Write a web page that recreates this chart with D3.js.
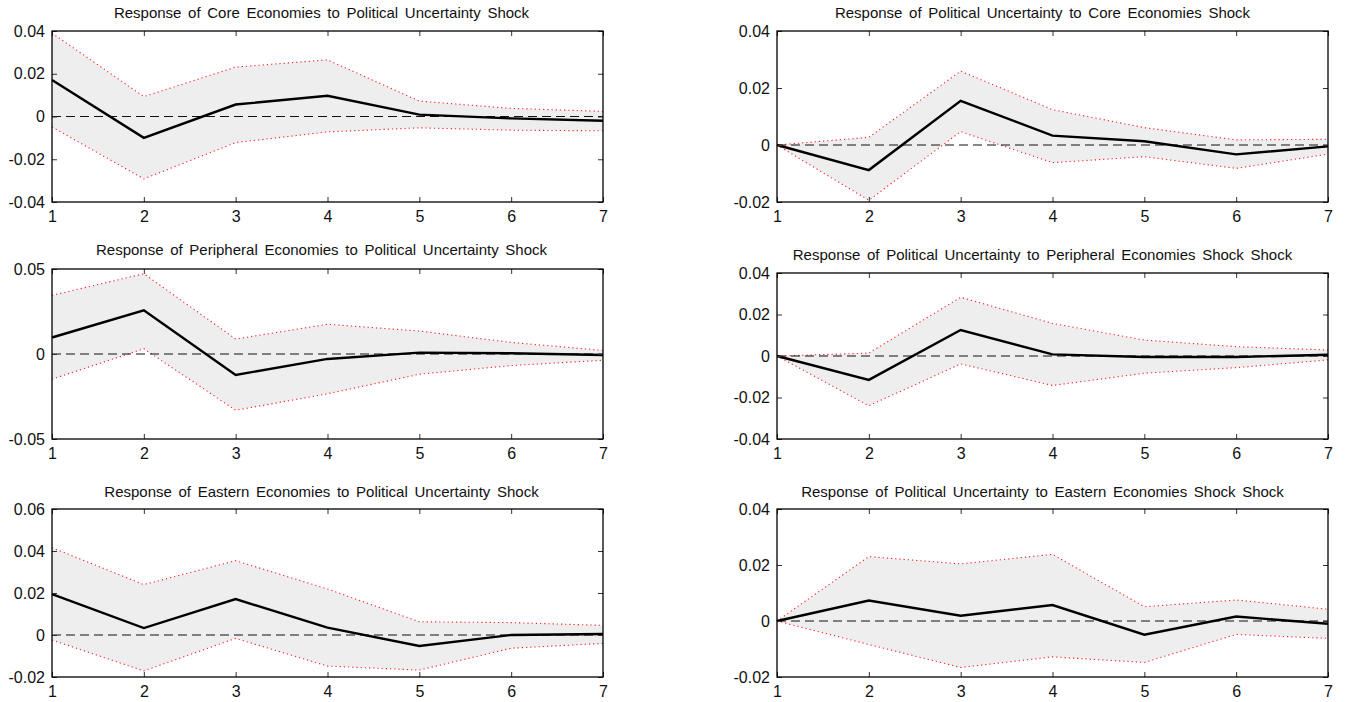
<!DOCTYPE html>
<html>
<head>
<meta charset="utf-8">
<script src="https://cdn.jsdelivr.net/npm/d3@7"></script>
<style>
  html, body { margin: 0; padding: 0; background: #ffffff; }
  svg { display: block; font-family: "Liberation Sans", Arial, sans-serif; }
</style>
</head>
<body>
<svg id="chart" width="1346" height="702"></svg>
<script>
// ---------------- data ----------------
const periods = [1, 2, 3, 4, 5, 6, 7];

const titles = [
  "Response of Core Economies to Political Uncertainty Shock",
  "Response of Political Uncertainty to Core Economies Shock",
  "Response of Peripheral Economies to Political Uncertainty Shock",
  "Response of Political Uncertainty to Peripheral Economies Shock Shock",
  "Response of Eastern Economies to Political Uncertainty Shock",
  "Response of Political Uncertainty to Eastern Economies Shock Shock"
];

const yTicksCore      = [-0.04, -0.02, 0, 0.02, 0.04];
const yTicksPUCore    = [-0.02, 0, 0.02, 0.04];
const yTicksPeriph    = [-0.05, 0, 0.05];
const yTicksPUPeriph  = [-0.04, -0.02, 0, 0.02, 0.04];
const yTicksEast      = [-0.02, 0, 0.02, 0.04, 0.06];
const yTicksPUEast    = [-0.02, 0, 0.02, 0.04];

const coreResp   = [0.0171, -0.0100, 0.0056, 0.0097, 0.0009, -0.0009, -0.0020];
const coreUpper  = [0.0390, 0.0093, 0.0231, 0.0265, 0.0072, 0.0038, 0.0024];
const coreLower  = [-0.0049, -0.0292, -0.0122, -0.0072, -0.0053, -0.0064, -0.0067];

const puCoreResp  = [0, -0.0088, 0.0155, 0.0033, 0.0013, -0.0033, -0.0005];
const puCoreUpper = [0, 0.0027, 0.0259, 0.0124, 0.0061, 0.0018, 0.0020];
const puCoreLower = [0, -0.0194, 0.0047, -0.0062, -0.0041, -0.0082, -0.0032];

const periphResp  = [0.0097, 0.0257, -0.0123, -0.0029, 0.0008, 0.0004, -0.0006];
const periphUpper = [0.0345, 0.0472, 0.0088, 0.0175, 0.0135, 0.0068, 0.0021];
const periphLower = [-0.0148, 0.0031, -0.0331, -0.0234, -0.0119, -0.0068, -0.0037];

const puPeriphResp  = [0, -0.0115, 0.0125, 0.0008, -0.0005, -0.0005, 0.0006];
const puPeriphUpper = [0, 0.0014, 0.0283, 0.0157, 0.0077, 0.0045, 0.0029];
const puPeriphLower = [0, -0.0240, -0.0038, -0.0142, -0.0083, -0.0056, -0.0019];

const eastResp  = [0.0195, 0.0033, 0.0171, 0.0035, -0.0052, 0.0000, 0.0005];
const eastUpper = [0.0416, 0.0240, 0.0354, 0.0219, 0.0063, 0.0059, 0.0046];
const eastLower = [-0.0024, -0.0171, -0.0016, -0.0148, -0.0167, -0.0063, -0.0040];

const puEastResp  = [0, 0.0073, 0.0019, 0.0057, -0.0049, 0.0016, -0.0010];
const puEastUpper = [0, 0.0230, 0.0204, 0.0238, 0.0051, 0.0075, 0.0042];
const puEastLower = [0, -0.0084, -0.0166, -0.0128, -0.0148, -0.0048, -0.0062];

// ---------------- build panels ----------------
const panelData = [
  {title: titles[0], ticks: yTicksCore,     resp: coreResp,     up: coreUpper,     lo: coreLower},
  {title: titles[1], ticks: yTicksPUCore,   resp: puCoreResp,   up: puCoreUpper,   lo: puCoreLower},
  {title: titles[2], ticks: yTicksPeriph,   resp: periphResp,   up: periphUpper,   lo: periphLower},
  {title: titles[3], ticks: yTicksPUPeriph, resp: puPeriphResp, up: puPeriphUpper, lo: puPeriphLower},
  {title: titles[4], ticks: yTicksEast,     resp: eastResp,     up: eastUpper,     lo: eastLower},
  {title: titles[5], ticks: yTicksPUEast,   resp: puEastResp,   up: puEastUpper,   lo: puEastLower}
];

// layout (pixel boxes of each plot area)
const colX = [[52, 603], [777, 1328]];
const rowY = [
  [[31, 202], [31, 202]],
  [[269, 439], [273, 439]],
  [[509, 677], [509, 677]]
];
const titleY = [[18, 18], [255, 260], [497, 497]];
const titleDx = [-6, -10];

const svg = d3.select("#chart");
const fmt = d => (d === 0 ? "0" : d.toFixed(2));

panelData.forEach((p, i) => {
  const col = i % 2, row = Math.floor(i / 2);
  const [x0, x1] = colX[col];
  const [y0, y1] = rowY[row][col];
  const w = x1 - x0, h = y1 - y0;
  const dom = d3.extent(p.ticks);

  const x = d3.scaleLinear().domain([1, 7]).range([0, w]);
  const y = d3.scaleLinear().domain(dom).range([h, 0]);

  const g = svg.append("g").attr("transform", `translate(${x0},${y0})`);

  // title
  svg.append("text")
    .attr("x", (x0 + x1) / 2 + titleDx[col])
    .attr("y", titleY[row][col])
    .attr("text-anchor", "middle")
    .attr("font-size", 15)
    .attr("word-spacing", "2.5px")
    .attr("fill", "#111")
    .text(p.title);

  const rows = periods.map((t, k) => ({t, r: p.resp[k], u: p.up[k], l: p.lo[k]}));

  // confidence band
  g.append("path")
    .datum(rows)
    .attr("fill", "#eeeeee")
    .attr("d", d3.area().x(d => x(d.t)).y0(d => y(d.l)).y1(d => y(d.u)));

  // red dotted bounds
  ["u", "l"].forEach(key => {
    g.append("path")
      .datum(rows)
      .attr("fill", "none")
      .attr("stroke", "#ff2020")
      .attr("stroke-width", 1.1)
      .attr("stroke-dasharray", "1.2,3")
      .attr("d", d3.line().x(d => x(d.t)).y(d => y(d[key])));
  });

  // zero dashed line
  g.append("line")
    .attr("x1", 0).attr("x2", w)
    .attr("y1", y(0)).attr("y2", y(0))
    .attr("stroke", "#111")
    .attr("stroke-width", 1.1)
    .attr("stroke-dasharray", "9,5");

  // response line
  g.append("path")
    .datum(rows)
    .attr("fill", "none")
    .attr("stroke", "#000")
    .attr("stroke-width", 2.4)
    .attr("stroke-linejoin", "miter")
    .attr("d", d3.line().x(d => x(d.t)).y(d => y(d.r)));

  // axes
  const left = g.append("g")
    .call(d3.axisLeft(y).tickValues(p.ticks).tickSize(-5).tickPadding(7).tickFormat(fmt));
  const right = g.append("g").attr("transform", `translate(${w},0)`)
    .call(d3.axisRight(y).tickValues(p.ticks).tickSize(-5).tickFormat(""));
  const bottom = g.append("g").attr("transform", `translate(0,${h})`)
    .call(d3.axisBottom(x).tickValues(periods).tickSize(-5).tickPadding(9).tickFormat(d3.format("d")));
  const top = g.append("g")
    .call(d3.axisTop(x).tickValues(periods).tickSize(-5).tickFormat(""));

  [left, right, bottom, top].forEach(a => {
    a.select(".domain").remove();
    a.selectAll("line").attr("stroke", "#333").attr("stroke-width", 1);
    a.selectAll("text")
      .attr("font-size", 16)
      .attr("fill", "#111")
      .attr("font-family", "'Liberation Sans', Arial, sans-serif");
  });

  // frame
  g.append("rect")
    .attr("x", 0).attr("y", 0).attr("width", w).attr("height", h)
    .attr("fill", "none")
    .attr("stroke", "#000")
    .attr("stroke-width", 1.3);
});
</script>
</body>
</html>
